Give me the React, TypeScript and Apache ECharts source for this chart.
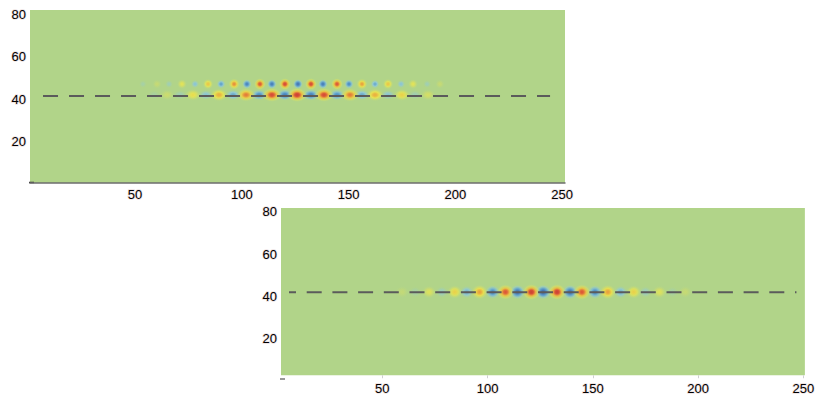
import React, { useEffect, useRef } from 'react';
import * as echarts from 'echarts';

// Tick labels
const xTicks = [50, 100, 150, 200, 250];
const yTicks = [20, 40, 60, 80];

// Top panel – upper row of small lobes (x position, signed amplitude)
const topUpperY = 47.2;
const topUpperX = [53.7, 60.3, 65.9, 72.0, 78.1, 84.2, 90.3, 96.4, 102.4, 108.5, 114.1, 120.2, 126.3, 132.4, 138.0, 144.6, 150.2, 156.3, 162.4, 168.5, 174.6, 180.2, 186.8, 192.8];
const topUpperA = [-0.1, 0.12, -0.15, 0.28, -0.3, 0.45, -0.5, 0.65, -0.7, 0.8, -0.75, 0.85, -0.8, 0.85, -0.75, 0.8, -0.65, 0.6, -0.45, 0.45, -0.3, 0.28, -0.15, 0.12];

// Top panel – lower row of large lobes
const topLowerY = 42.1;
const topLowerX = [58.9, 65.0, 71.1, 77.1, 83.2, 89.3, 95.9, 102.0, 108.1, 114.1, 120.2, 125.9, 132.4, 138.5, 144.6, 150.7, 156.3, 162.4, 168.5, 175.0, 181.1, 187.2];
const topLowerA = [-0.08, 0.15, -0.15, 0.35, -0.3, 0.55, -0.45, 0.7, -0.6, 0.85, -0.7, 0.9, -0.7, 0.85, -0.6, 0.7, -0.45, 0.55, -0.3, 0.4, -0.15, 0.2];

// Bottom panel – single row of lobes
const botY = 41.9;
const botX = [59.4, 65.6, 72.2, 78.3, 84.4, 90.1, 96.2, 102.4, 108.5, 114.2, 120.8, 126.4, 133.0, 139.2, 144.8, 151.0, 157.1, 163.2, 169.4, 175.0, 181.6, 187.8, 193.9];
const botA = [0.1, -0.1, 0.25, -0.2, 0.4, -0.4, 0.6, -0.65, 0.8, -0.8, 0.9, -0.85, 0.9, -0.8, 0.8, -0.65, 0.6, -0.4, 0.4, -0.2, 0.25, -0.1, 0.12];

// Dashed reference lines [xStart, xEnd, y]
const topDash = [6.9, 244.4, 41.6];
const botDash = [5.7, 246.7, 41.8];

const BG = [177, 212, 137];
const POS: [number, number[]][] = [
  [0, BG],
  [0.3, [244, 232, 70]],
  [0.55, [248, 165, 45]],
  [0.8, [230, 45, 34]],
  [1, [178, 16, 24]],
];
const NEG: [number, number[]][] = [
  [0, BG],
  [0.25, [140, 200, 228]],
  [0.55, [62, 138, 218]],
  [1, [24, 56, 165]],
];

function cmap(v: number, alpha: number) {
  const tbl = v >= 0 ? POS : NEG;
  const t = Math.min(1, Math.abs(v));
  let c = tbl[tbl.length - 1][1];
  for (let i = 1; i < tbl.length; i++) {
    if (t <= tbl[i][0]) {
      const [t0, c0] = tbl[i - 1];
      const [t1, c1] = tbl[i];
      const f = (t - t0) / (t1 - t0);
      c = c0.map((x, k) => x + (c1[k] - x) * f);
      break;
    }
  }
  return `rgba(${Math.round(c[0])},${Math.round(c[1])},${Math.round(c[2])},${alpha})`;
}

function grad(a: number) {
  const stops = [
    [0, 1, 1],
    [0.22, 0.9, 1],
    [0.48, 0.55, 1],
    [0.75, 0.25, 0.6],
    [1, 0, 0],
  ].map(([o, f, al]) => ({ offset: o, color: cmap(a * f, al) }));
  return new echarts.graphic.RadialGradient(0.5, 0.5, 0.5, stops);
}

function blobs(xs: number[], as: number[], y: number, pos: number[], neg: number[], sign: number) {
  return xs
    .map((x, i) => {
      const a = as[i];
      const s = a >= 0 ? pos : neg;
      const k = 0.7 + 0.3 * Math.abs(a);
      return {
        value: [x, y, a],
        symbolSize: [s[0] * k, s[1] * k],
        itemStyle: { color: grad(a) },
      };
    })
    .filter((d) => d.value[2] * sign > 0)
    .sort((p, q) => Math.abs(p.value[2]) - Math.abs(q.value[2]));
}

const ELLIPSE = 'path://M0,-10A10,10 0 1,1 0,10A10,10 0 1,1 0,-10Z';
const FONT = '"Liberation Sans", Arial, sans-serif';

const label = (margin: number, values: number[]) => ({
  customValues: values,
  color: '#000',
  fontSize: 13,
  fontFamily: FONT,
  margin,
  textBorderColor: 'rgba(225,205,205,0.6)',
  textBorderWidth: 1.5,
});

function row(xi: number, xs: number[], as: number[], y: number, pos: number[], neg: number[]) {
  // negative lobes underneath, positive lobes on top
  return [-1, 1].map((sign) => ({
    type: 'scatter', xAxisIndex: xi, yAxisIndex: xi, symbol: ELLIPSE, silent: true, z: 2,
    data: blobs(xs, as, y, pos, neg, sign),
  }));
}

export default function App() {
  const ref = useRef<HTMLDivElement>(null);
  useEffect(() => {
    if (!ref.current) return;
    const chart = echarts.init(ref.current, null, { renderer: 'svg' });
    chart.setOption({
      animation: false,
      grid: [
        { left: 30, top: 10, width: 535, height: 173, show: true, backgroundColor: '#b1d489', borderWidth: 0 },
        { left: 281, top: 208, width: 527, height: 169, show: true, backgroundColor: '#b1d489', borderWidth: 0 },
      ],
      xAxis: [
        {
          gridIndex: 0, type: 'value', min: 0.8, max: 251.4,
          axisLine: { show: true, onZero: false, lineStyle: { color: '#6e6e6e', width: 1.5 } },
          axisTick: { show: false },
          splitLine: { show: false },
          axisLabel: label(5, xTicks),
        },
        {
          gridIndex: 1, type: 'value', min: 1.9, max: 250.7,
          axisLine: { show: false, onZero: false },
          axisTick: { show: true, customValues: xTicks, length: 3, lineStyle: { color: '#d0d0d0' } },
          splitLine: { show: false },
          axisLabel: label(7, xTicks),
        },
      ],
      yAxis: [
        {
          gridIndex: 0, type: 'value', min: 0.7, max: 82,
          axisLine: { show: false }, axisTick: { show: false }, splitLine: { show: false },
          axisLabel: label(4, yTicks),
        },
        {
          gridIndex: 1, type: 'value', min: 2.3, max: 81.9,
          axisLine: { show: false }, axisTick: { show: false }, splitLine: { show: false },
          axisLabel: label(4, yTicks),
        },
      ],
      series: [
        ...row(0, topUpperX, topUpperA, topUpperY, [13, 13], [11, 11]),
        ...row(0, topLowerX, topLowerA, topLowerY, [21, 15], [19, 13]),
        {
          type: 'line', xAxisIndex: 0, yAxisIndex: 0, silent: true, z: 3, showSymbol: false,
          data: [[topDash[0], topDash[2]], [topDash[1], topDash[2]]],
          lineStyle: { color: '#5b5b5b', width: 2, type: [15, 11] },
        },
        ...row(1, botX, botA, botY, [19, 17], [17, 16]),
        {
          type: 'line', xAxisIndex: 1, yAxisIndex: 1, silent: true, z: 3, showSymbol: false,
          data: [[botDash[0], botDash[2]], [botDash[1], botDash[2]]],
          lineStyle: { color: '#5b5b5b', width: 2, type: [15, 10.7], dashOffset: 8 },
        },
      ],
      graphic: [
        { type: 'line', shape: { x1: 29, y1: 182.5, x2: 34, y2: 182.5 }, style: { stroke: '#333', lineWidth: 1.5 } },
        { type: 'line', shape: { x1: 280, y1: 379, x2: 285, y2: 379 }, style: { stroke: '#555', lineWidth: 1.2 } },
      ],
    });
    return () => chart.dispose();
  }, []);
  return <div ref={ref} style={{ position: 'fixed', left: 0, top: 0, width: 818, height: 396, background: '#fff' }} />;
}
